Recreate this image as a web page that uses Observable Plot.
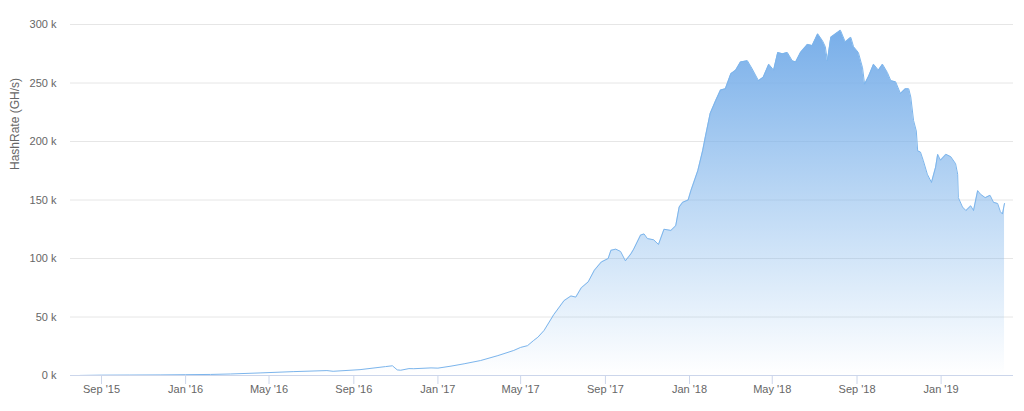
<!DOCTYPE html>
<html><head><meta charset="utf-8">
<script src="https://cdn.jsdelivr.net/npm/d3@7"></script>
<script src="https://cdn.jsdelivr.net/npm/@observablehq/plot@0.6"></script>
<style>
html,body{margin:0;padding:0;background:#fff;}
#chart svg{display:block;}
</style></head><body><div id="chart"></div>
<script>
// ---- data ----
const dates = [
"2015-08-01","2015-09-01","2015-10-12","2015-11-25","2016-01-01","2016-02-06","2016-03-06","2016-04-18",
"2016-06-05","2016-07-24","2016-08-02","2016-09-10","2016-10-17","2016-10-27","2016-11-03","2016-11-08",
"2016-11-20","2016-11-27","2016-12-22","2017-01-01","2017-01-20","2017-02-08","2017-03-04","2017-03-29",
"2017-04-21","2017-05-01","2017-05-11","2017-05-20","2017-05-26","2017-06-04","2017-06-18","2017-07-03",
"2017-07-13","2017-07-20","2017-07-28","2017-08-07","2017-08-16","2017-08-26","2017-09-05","2017-09-09",
"2017-09-16","2017-09-23","2017-09-30","2017-10-08","2017-10-12","2017-10-22","2017-10-27","2017-11-01",
"2017-11-10","2017-11-17","2017-11-25","2017-12-05","2017-12-12","2017-12-17","2017-12-22","2017-12-30",
"2018-01-03","2018-01-13","2018-01-20","2018-01-24","2018-01-31","2018-02-08","2018-02-15","2018-02-22",
"2018-03-02","2018-03-09","2018-03-16","2018-03-26","2018-04-02","2018-04-11","2018-04-18","2018-04-26",
"2018-05-03","2018-05-09","2018-05-16","2018-05-23","2018-05-30","2018-06-04","2018-06-11","2018-06-21",
"2018-06-28","2018-07-06","2018-07-13","2018-07-17","2018-07-20","2018-07-25","2018-08-08","2018-08-15",
"2018-08-23","2018-08-27","2018-09-03","2018-09-09","2018-09-12","2018-09-18","2018-09-25","2018-10-02",
"2018-10-08","2018-10-15","2018-10-20","2018-10-27","2018-11-03","2018-11-10","2018-11-15","2018-11-18",
"2018-11-22","2018-11-26","2018-11-28","2018-12-02","2018-12-06","2018-12-12","2018-12-18","2018-12-24",
"2018-12-27","2018-12-31","2019-01-08","2019-01-15","2019-01-22","2019-01-25","2019-01-26","2019-02-01",
"2019-02-06","2019-02-13","2019-02-17","2019-02-23","2019-02-27","2019-03-06","2019-03-13","2019-03-18",
"2019-03-24","2019-03-28","2019-03-31","2019-04-03"
];
const hashrate = [
50,300,400,500,700,900,1300,2200,
3300,4200,3600,5000,7600,8300,4800,4500,
5900,5800,6500,6300,8000,10000,12800,17000,
21400,24000,25500,30000,32700,38500,52000,64000,
68000,67000,75000,80000,90000,97000,100000,107000,
108000,106000,98000,104000,108000,120000,121000,117000,
116000,112000,125000,124000,128000,144000,148000,150000,
158000,175000,192000,204000,224000,235000,244000,245000,
258000,261000,268000,269000,262000,252000,255000,266000,
261000,276000,275000,276000,269000,268000,276000,283000,
282000,292000,286000,281000,269000,289000,295000,285000,
289000,281000,276000,263000,249000,256000,266000,261000,
266000,259000,252000,251000,241000,245000,245000,238000,
218000,209000,192000,191000,184000,172000,165000,178000,
189000,184000,189000,187000,181000,172000,152000,144000,
141000,145000,141000,158000,155000,152000,154000,148000,
147000,140000,138000,147000
];
const xTickDates = ["2015-09-01","2016-01-01","2016-05-01","2016-09-01","2017-01-01","2017-05-01",
  "2017-09-01","2018-01-01","2018-05-01","2018-09-01","2019-01-01"];
const xTickLabels = ["Sep '15","Jan '16","May '16","Sep '16","Jan '17","May '17",
  "Sep '17","Jan '18","May '18","Sep '18","Jan '19"];
const yTicks = [0,50000,100000,150000,200000,250000,300000];
const yLabel = "HashRate (GH/s)";
const xDomain = ["2015-07-18","2019-04-16"];

// ---- build ----
const toDate = s => new Date(s + "T00:00:00Z");
const data = dates.map((d, i) => ({date: toDate(d), value: hashrate[i]}));
const xTicks = xTickDates.map(toDate);
const labelByTime = new Map(xTicks.map((d, i) => [+d, xTickLabels[i]]));

const chart = Plot.plot({
  width: 1024,
  height: 411,
  marginLeft: 70,
  marginRight: 11,
  marginTop: 24,
  marginBottom: 36,
  style: {fontFamily: "'Liberation Sans', Arial, sans-serif", fontSize: "11px", background: "#fff", color: "#666"},
  x: {type: "utc", domain: xDomain.map(toDate)},
  y: {domain: [0, 300000]},
  marks: [
    Plot.gridY(yTicks.filter(d => d > 0), {stroke: "#e6e6e6", strokeOpacity: 1}),
    Plot.areaY(data, {x: "date", y: "value", fill: "url(#hrGrad)"}),
    Plot.lineY(data, {x: "date", y: "value", stroke: "#7cb5ec", strokeWidth: 1}),
    Plot.ruleY([0], {stroke: "#ccd6eb"}),
    Plot.axisX({ticks: xTicks, tickFormat: d => labelByTime.get(+d), tickSize: 9, tickPadding: 1,
      stroke: "#ccd6eb", fill: "#666", label: null}),
    Plot.axisY({ticks: yTicks, tickFormat: d => (d / 1000) + " k", tickSize: 0, tickPadding: 14,
      fill: "#666", label: null}),
    Plot.text([yLabel], {frameAnchor: "left", dx: -55, dy: -30, rotate: -90, fontSize: 12, fill: "#666"})
  ]
});

const svgEl = chart.tagName.toLowerCase() === "svg" ? chart : chart.querySelector("svg");
d3.select(svgEl).insert("defs", ":first-child").html(
  '<linearGradient id="hrGrad" x1="0" y1="0" x2="0" y2="1">' +
  '<stop offset="0" stop-color="rgb(120,174,233)" stop-opacity="1"/>' +
  '<stop offset="1" stop-color="rgb(124,181,236)" stop-opacity="0"/>' +
  '</linearGradient>');
document.getElementById("chart").appendChild(chart);
</script>
</body></html>
